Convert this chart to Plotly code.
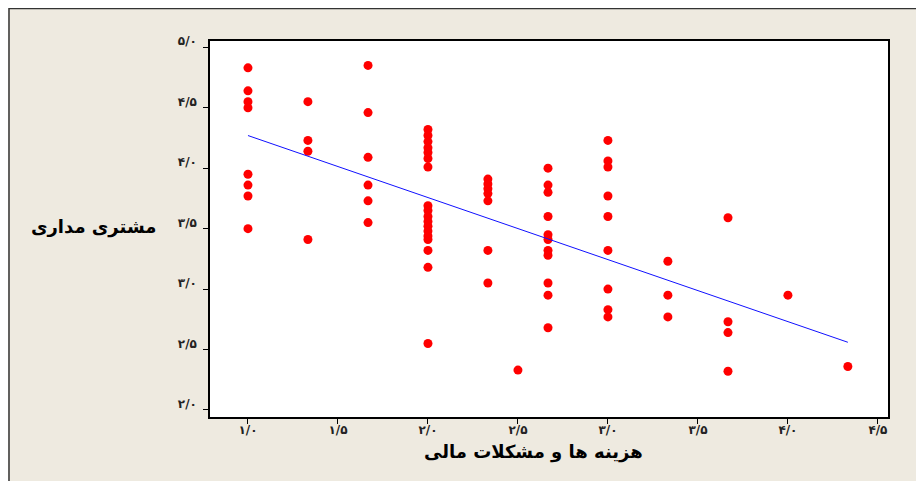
import plotly.graph_objects as go

# ---- data ----
x_col_1_00 = [1.0] * 8
y_col_1_00 = [4.83, 4.64, 4.55, 4.50, 3.95, 3.86, 3.77, 3.50]
x_col_1_33 = [1.333] * 4
y_col_1_33 = [4.55, 4.23, 4.14, 3.41]
x_col_1_67 = [1.667] * 6
y_col_1_67 = [4.85, 4.46, 4.09, 3.86, 3.73, 3.55]
x_col_2_00 = [2.0] * 18
y_col_2_00 = [4.32, 4.27, 4.22, 4.17, 4.13, 4.08, 4.01,
              3.69, 3.65, 3.60, 3.56, 3.52, 3.48, 3.44, 3.41, 3.32, 3.18, 2.55]
x_col_2_33 = [2.333] * 7
y_col_2_33 = [3.91, 3.87, 3.83, 3.79, 3.73, 3.32, 3.05]
x_col_2_50 = [2.5]
y_col_2_50 = [2.33]
x_col_2_67 = [2.667] * 11
y_col_2_67 = [4.00, 3.86, 3.80, 3.60, 3.45, 3.41, 3.32, 3.28, 3.05, 2.95, 2.68]
x_col_3_00 = [3.0] * 9
y_col_3_00 = [4.23, 4.06, 4.01, 3.77, 3.60, 3.32, 3.00, 2.83, 2.77]
x_col_3_33 = [3.333] * 3
y_col_3_33 = [3.23, 2.95, 2.77]
x_col_3_67 = [3.667] * 4
y_col_3_67 = [3.59, 2.73, 2.64, 2.32]
x_col_4_00 = [4.0]
y_col_4_00 = [2.95]
x_col_4_33 = [4.333]
y_col_4_33 = [2.36]

fit_x = [1.0, 4.333]
fit_y = [4.27, 2.56]

x_tick_vals = [1.0, 1.5, 2.0, 2.5, 3.0, 3.5, 4.0, 4.5]
x_tick_text = ["۱/۰", "۱/۵", "۲/۰", "۲/۵", "۳/۰", "۳/۵", "۴/۰", "۴/۵"]
y_tick_vals = [2.0, 2.5, 3.0, 3.5, 4.0, 4.5, 5.0]
y_tick_text = ["۲/۰", "۲/۵", "۳/۰", "۳/۵", "۴/۰", "۴/۵", "۵/۰"]

x_title = "هزینه ها و مشکلات مالی"
y_title = "مشتری مداری"

xs = (x_col_1_00 + x_col_1_33 + x_col_1_67 + x_col_2_00 + x_col_2_33 + x_col_2_50
      + x_col_2_67 + x_col_3_00 + x_col_3_33 + x_col_3_67 + x_col_4_00 + x_col_4_33)
ys = (y_col_1_00 + y_col_1_33 + y_col_1_67 + y_col_2_00 + y_col_2_33 + y_col_2_50
      + y_col_2_67 + y_col_3_00 + y_col_3_33 + y_col_3_67 + y_col_4_00 + y_col_4_33)

# ---- figure (page has an 8px body margin) ----
OFF = 8
W, H = 916, 473
L, R, T, B = 202, 36, 33, 64
pw, ph = W - L - R, H - T - B

def px_x(p):  # page pixel -> paper x
    return (p - OFF - L) / pw

def px_y(p):  # page pixel -> paper y
    return (OFF + H - B - p) / ph

fig = go.Figure()
fig.add_trace(go.Scatter(
    x=xs, y=ys, mode="markers",
    marker=dict(color="#FF0000", size=9, symbol="circle", line=dict(width=0)),
    showlegend=False, hoverinfo="x+y"))
fig.add_trace(go.Scatter(
    x=fit_x, y=fit_y, mode="lines",
    line=dict(color="#1010FF", width=1),
    showlegend=False, hoverinfo="skip"))

tick_font = dict(family="DejaVu Sans", size=12, color="#222222", weight="bold")
fig.update_xaxes(
    range=[0.789, 4.556], tickvals=x_tick_vals, ticktext=x_tick_text,
    ticks="outside", ticklen=5, tickcolor="black", tickwidth=1,
    showline=True, linecolor="black", linewidth=1.5, mirror=True,
    showgrid=False, zeroline=False, tickfont=tick_font,
    ticklabelstandoff=-4)
fig.update_yaxes(
    range=[1.942, 5.052], tickvals=y_tick_vals, ticktext=y_tick_text,
    ticks="outside", ticklen=5, tickcolor="black", tickwidth=1,
    showline=True, linecolor="black", linewidth=1.5, mirror=True,
    showgrid=False, zeroline=False, tickfont=tick_font,
    ticklabelshift=-6, ticklabelstandoff=4)

title_font = dict(family="DejaVu Sans", size=18, color="black", weight="bold")
fig.add_annotation(text=x_title, xref="paper", yref="paper",
                   x=px_x(533), y=px_y(452), showarrow=False, font=title_font,
                   xanchor="center", yanchor="middle")
fig.add_annotation(text=y_title, xref="paper", yref="paper",
                   x=px_x(93), y=px_y(227), showarrow=False, font=title_font,
                   xanchor="center", yanchor="middle")

# outer picture border
fig.add_shape(type="rect", xref="paper", yref="paper",
              x0=px_x(9), x1=px_x(918), y0=px_y(495), y1=px_y(8.5),
              line=dict(color="#333333", width=1.5), fillcolor="rgba(0,0,0,0)",
              layer="below")

fig.update_layout(
    width=W, height=H,
    margin=dict(l=L, r=R, t=T, b=B),
    paper_bgcolor="#EEEAE0", plot_bgcolor="white",
    showlegend=False)

fig.write_html("out.html")
